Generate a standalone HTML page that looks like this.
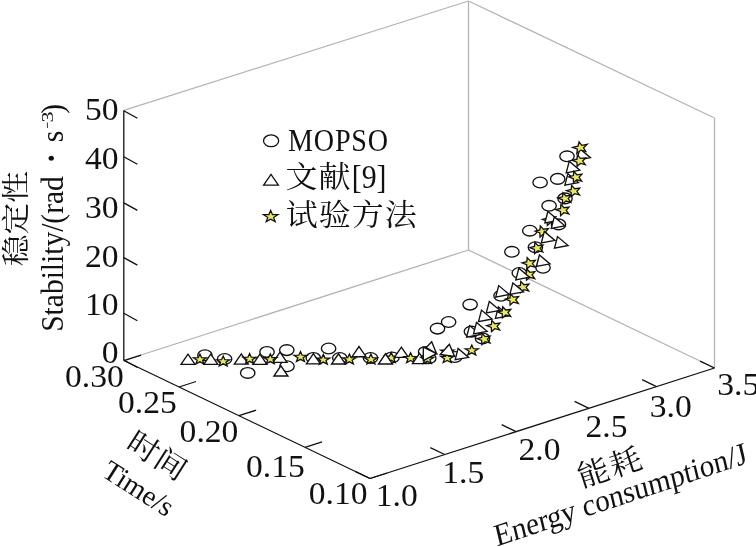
<!DOCTYPE html>
<html><head><meta charset="utf-8"><title>3D scatter</title>
<style>
html,body{margin:0;padding:0;background:#fff;}
svg{display:block;}
text{font-family:"Liberation Serif","Noto Serif CJK SC",serif;fill:#111;}
.cj{font-family:"Noto Serif CJK SC","Liberation Serif",serif;}
.tk{font-size:32px;}
</style></head><body>
<svg width="756" height="547" viewBox="0 0 756 547">
<rect width="756" height="547" fill="#fff"/>
<g id="box" fill="none" stroke-linecap="butt">
<line x1="123.8" y1="110.4" x2="468.5" y2="1.0" stroke="#b4b4b4" stroke-width="1.3"/>
<line x1="468.5" y1="1.0" x2="714.5" y2="118.0" stroke="#b4b4b4" stroke-width="1.3"/>
<line x1="714.5" y1="118.0" x2="714.5" y2="368.0" stroke="#b4b4b4" stroke-width="1.3"/>
<line x1="468.5" y1="1.0" x2="468.5" y2="250.0" stroke="#b4b4b4" stroke-width="1.3"/>
<line x1="468.5" y1="250.0" x2="123.8" y2="360.5" stroke="#b4b4b4" stroke-width="1.3"/>
<line x1="468.5" y1="250.0" x2="714.5" y2="368.0" stroke="#b4b4b4" stroke-width="1.3"/>
<line x1="123.8" y1="360.5" x2="123.8" y2="110.4" stroke="#111" stroke-width="1.3"/>
<line x1="123.8" y1="360.5" x2="370.0" y2="478.5" stroke="#111" stroke-width="1.3"/>
<line x1="370.0" y1="478.5" x2="714.5" y2="368.0" stroke="#111" stroke-width="1.3"/>
</g>
<g id="ticks">
<line x1="123.8" y1="360.0" x2="137.4" y2="367.5" stroke="#111" stroke-width="1.3"/>
<line x1="123.8" y1="313.2" x2="137.4" y2="320.7" stroke="#111" stroke-width="1.3"/>
<line x1="123.8" y1="257.6" x2="137.4" y2="265.1" stroke="#111" stroke-width="1.3"/>
<line x1="123.8" y1="202.9" x2="137.4" y2="210.4" stroke="#111" stroke-width="1.3"/>
<line x1="123.8" y1="156.8" x2="137.4" y2="164.3" stroke="#111" stroke-width="1.3"/>
<line x1="123.8" y1="110.7" x2="137.4" y2="118.2" stroke="#111" stroke-width="1.3"/>
<line x1="124.0" y1="360.6" x2="141.1" y2="355.1" stroke="#111" stroke-width="1.3"/>
<line x1="179.0" y1="387.0" x2="196.1" y2="381.5" stroke="#111" stroke-width="1.3"/>
<line x1="239.0" y1="415.7" x2="256.1" y2="410.2" stroke="#111" stroke-width="1.3"/>
<line x1="305.0" y1="447.3" x2="322.1" y2="441.8" stroke="#111" stroke-width="1.3"/>
<line x1="370.0" y1="478.5" x2="387.1" y2="473.0" stroke="#111" stroke-width="1.3"/>
<line x1="370.0" y1="478.5" x2="355.6" y2="471.6" stroke="#111" stroke-width="1.3"/>
<line x1="444.7" y1="454.5" x2="430.3" y2="447.6" stroke="#111" stroke-width="1.3"/>
<line x1="516.1" y1="431.6" x2="501.7" y2="424.7" stroke="#111" stroke-width="1.3"/>
<line x1="589.0" y1="408.3" x2="574.6" y2="401.3" stroke="#111" stroke-width="1.3"/>
<line x1="656.5" y1="386.6" x2="642.1" y2="379.7" stroke="#111" stroke-width="1.3"/>
<line x1="714.5" y1="368.0" x2="700.1" y2="361.1" stroke="#111" stroke-width="1.3"/>
</g>
<g id="ticklabels" class="tk">
<text transform="translate(118.6,363.1) scale(1.05,1)" text-anchor="end">0</text>
<text transform="translate(118.6,315.3) scale(1.05,1)" text-anchor="end">10</text>
<text transform="translate(118.6,266.6) scale(1.05,1)" text-anchor="end">20</text>
<text transform="translate(118.6,217.6) scale(1.05,1)" text-anchor="end">30</text>
<text transform="translate(118.6,169.0) scale(1.05,1)" text-anchor="end">40</text>
<text transform="translate(118.6,120.1) scale(1.05,1)" text-anchor="end">50</text>
<text transform="translate(65,387.2) scale(1.05,1)">0.30</text>
<text transform="translate(118,413.2) scale(1.05,1)">0.25</text>
<text transform="translate(179.6,441.7) scale(1.05,1)">0.20</text>
<text transform="translate(246,477.2) scale(1.05,1)">0.15</text>
<text transform="translate(308.8,504.1) scale(1.05,1)">0.10</text>
<text transform="translate(375.7,505.8) scale(1.05,1)">1.0</text>
<text transform="translate(442.3,483.3) scale(1.05,1)">1.5</text>
<text transform="translate(518.5,459.5) scale(1.05,1)">2.0</text>
<text transform="translate(585.5,437) scale(1.05,1)">2.5</text>
<text transform="translate(649.7,417.3) scale(1.05,1)">3.0</text>
<text transform="translate(717.3,394.8) scale(1.05,1)">3.5</text>
</g>
<g id="axislabels">
<text class="cj" transform="translate(25.8,218.6) rotate(-90) scale(1.01,0.91)" text-anchor="middle" font-size="31.5">稳定性</text>
<text transform="translate(63.4,331.8) rotate(-90) scale(0.922,1)" font-size="32">Stability/(rad<tspan font-size="46" dx="11.8" dy="3.9">·</tspan><tspan dx="9.8" dy="-3.9">s</tspan><tspan dx="18.4">)</tspan></text>
<text transform="translate(53,128.5) rotate(-90) scale(0.668,1)" font-size="17.7">−</text>
<text transform="translate(53,122.55) rotate(-90) scale(1.245,1)" font-size="17.7">3</text>
<text class="cj" transform="translate(157,456) rotate(32.5) scale(1,0.92)" text-anchor="middle" font-size="32" dy="11">时间</text>
<text transform="translate(100.5,475.4) rotate(32.5)" font-size="28.5">Time/s</text>
<text class="cj" transform="translate(610.4,466.9) rotate(-18) scale(1,0.94)" text-anchor="middle" font-size="32" dy="11.5" letter-spacing="2">能耗</text>
<text transform="translate(497,546.4) rotate(-18.4) skewX(-5) scale(0.956,1)" font-size="31">Energy consumption/J</text>
</g>
<g id="legend">
<ellipse cx="271.1" cy="140.8" rx="7.6" ry="5.9" fill="#fff" stroke="#111" stroke-width="1.3"/>
<polygon points="263.6,185.1 278.4,185.1 271,174.3" fill="#fff" stroke="#111" stroke-width="1.3" stroke-linejoin="miter"/>
<polygon points="270.7,210.4 272.5,214.6 277.9,214.7 273.6,217.4 275.2,221.6 270.7,219.1 266.2,221.6 267.8,217.4 263.5,214.7 268.9,214.6" fill="#ece85c" stroke="#111" stroke-width="1.25" stroke-linejoin="miter" stroke-miterlimit="10"/>
<text transform="translate(288,150.6) scale(0.89,1)" font-size="31.6" letter-spacing="0.9">MOPSO</text>
<text class="cj" transform="translate(285.5,186.6) scale(1,0.94)" font-size="32" letter-spacing="1">文献</text>
<text transform="translate(351.8,187.8) scale(0.87,1)" font-size="34.2">[9]</text>
<text class="cj" transform="translate(285.8,225.1) scale(1,0.94)" font-size="32" letter-spacing="1">试验方法</text>
</g>
<g id="data">
<ellipse cx="204.9" cy="355.2" rx="7.2" ry="5.35" fill="#fff" stroke="#111" stroke-width="1.35"/>
<ellipse cx="224.6" cy="359.0" rx="7.2" ry="5.35" fill="#fff" stroke="#111" stroke-width="1.35"/>
<ellipse cx="247.7" cy="372.9" rx="7.2" ry="5.35" fill="#fff" stroke="#111" stroke-width="1.35"/>
<ellipse cx="267.0" cy="351.9" rx="7.2" ry="5.35" fill="#fff" stroke="#111" stroke-width="1.35"/>
<ellipse cx="286.8" cy="350.1" rx="7.2" ry="5.35" fill="#fff" stroke="#111" stroke-width="1.35"/>
<ellipse cx="287.0" cy="366.3" rx="7.2" ry="5.35" fill="#fff" stroke="#111" stroke-width="1.35"/>
<ellipse cx="328.6" cy="348.5" rx="7.2" ry="5.35" fill="#fff" stroke="#111" stroke-width="1.35"/>
<ellipse cx="313.3" cy="357.9" rx="7.2" ry="5.35" fill="#fff" stroke="#111" stroke-width="1.35"/>
<ellipse cx="339.8" cy="358.0" rx="7.2" ry="5.35" fill="#fff" stroke="#111" stroke-width="1.35"/>
<ellipse cx="370.5" cy="358.0" rx="7.2" ry="5.35" fill="#fff" stroke="#111" stroke-width="1.35"/>
<ellipse cx="392.0" cy="357.4" rx="7.2" ry="5.35" fill="#fff" stroke="#111" stroke-width="1.35"/>
<polygon points="391.2,352.5 392.9,356.1 397.7,356.2 393.9,358.6 395.2,362.3 391.2,360.2 387.2,362.3 388.5,358.6 384.7,356.2 389.5,356.1" fill="#ece85c" stroke="#111" stroke-width="1.3" stroke-linejoin="miter" stroke-miterlimit="10"/>
<polygon points="181.0,364.3 195.0,364.3 188.0,354.1" fill="#fff" stroke="#111" stroke-width="1.35" stroke-linejoin="miter"/>
<polygon points="203.8,364.3 217.8,364.3 210.8,354.1" fill="#fff" stroke="#111" stroke-width="1.35" stroke-linejoin="miter"/>
<polygon points="234.3,364.1 248.3,364.1 241.3,353.9" fill="#fff" stroke="#111" stroke-width="1.35" stroke-linejoin="miter"/>
<polygon points="252.9,364.4 266.9,364.4 259.9,354.2" fill="#fff" stroke="#111" stroke-width="1.35" stroke-linejoin="miter"/>
<polygon points="273.0,362.4 287.0,362.4 280.0,352.2" fill="#fff" stroke="#111" stroke-width="1.35" stroke-linejoin="miter"/>
<polygon points="273.9,376.0 287.9,376.0 280.9,365.8" fill="#fff" stroke="#111" stroke-width="1.35" stroke-linejoin="miter"/>
<polygon points="306.4,363.8 320.4,363.8 313.4,353.6" fill="#fff" stroke="#111" stroke-width="1.35" stroke-linejoin="miter"/>
<polygon points="331.5,364.0 345.5,364.0 338.5,353.8" fill="#fff" stroke="#111" stroke-width="1.35" stroke-linejoin="miter"/>
<polygon points="352.0,356.7 366.0,356.7 359.0,346.5" fill="#fff" stroke="#111" stroke-width="1.35" stroke-linejoin="miter"/>
<polygon points="378.5,364.0 392.5,364.0 385.5,353.8" fill="#fff" stroke="#111" stroke-width="1.35" stroke-linejoin="miter"/>
<polygon points="394.4,357.3 408.4,357.3 401.4,347.1" fill="#fff" stroke="#111" stroke-width="1.35" stroke-linejoin="miter"/>
<polygon points="199.9,354.1 201.6,357.7 206.4,357.8 202.6,360.2 203.9,363.9 199.9,361.8 195.9,363.9 197.2,360.2 193.4,357.8 198.2,357.7" fill="#ece85c" stroke="#111" stroke-width="1.3" stroke-linejoin="miter" stroke-miterlimit="10"/>
<polygon points="223.2,356.1 224.9,359.7 229.7,359.8 225.9,362.2 227.2,365.9 223.2,363.8 219.2,365.9 220.5,362.2 216.7,359.8 221.5,359.7" fill="#ece85c" stroke="#111" stroke-width="1.3" stroke-linejoin="miter" stroke-miterlimit="10"/>
<polygon points="249.6,353.6 251.3,357.2 256.1,357.3 252.3,359.7 253.6,363.4 249.6,361.3 245.6,363.4 246.9,359.7 243.1,357.3 247.9,357.2" fill="#ece85c" stroke="#111" stroke-width="1.3" stroke-linejoin="miter" stroke-miterlimit="10"/>
<polygon points="270.3,353.9 272.0,357.5 276.8,357.6 273.0,360.0 274.3,363.7 270.3,361.6 266.3,363.7 267.6,360.0 263.8,357.6 268.6,357.5" fill="#ece85c" stroke="#111" stroke-width="1.3" stroke-linejoin="miter" stroke-miterlimit="10"/>
<polygon points="300.5,351.6 302.2,355.2 307.0,355.3 303.2,357.7 304.5,361.4 300.5,359.3 296.5,361.4 297.8,357.7 294.0,355.3 298.8,355.2" fill="#ece85c" stroke="#111" stroke-width="1.3" stroke-linejoin="miter" stroke-miterlimit="10"/>
<polygon points="323.3,354.4 325.0,358.0 329.8,358.1 326.0,360.5 327.3,364.2 323.3,362.1 319.3,364.2 320.6,360.5 316.8,358.1 321.6,358.0" fill="#ece85c" stroke="#111" stroke-width="1.3" stroke-linejoin="miter" stroke-miterlimit="10"/>
<polygon points="349.4,354.1 351.1,357.7 355.9,357.8 352.1,360.2 353.4,363.9 349.4,361.8 345.4,363.9 346.7,360.2 342.9,357.8 347.7,357.7" fill="#ece85c" stroke="#111" stroke-width="1.3" stroke-linejoin="miter" stroke-miterlimit="10"/>
<polygon points="370.9,354.1 372.6,357.7 377.4,357.8 373.6,360.2 374.9,363.9 370.9,361.8 366.9,363.9 368.2,360.2 364.4,357.8 369.2,357.7" fill="#ece85c" stroke="#111" stroke-width="1.3" stroke-linejoin="miter" stroke-miterlimit="10"/>
<polygon points="410.6,352.8 412.3,356.4 417.1,356.5 413.3,358.9 414.6,362.6 410.6,360.5 406.6,362.6 407.9,358.9 404.1,356.5 408.9,356.4" fill="#ece85c" stroke="#111" stroke-width="1.3" stroke-linejoin="miter" stroke-miterlimit="10"/>
<ellipse cx="425.6" cy="351.9" rx="7.2" ry="5.35" fill="#fff" stroke="#111" stroke-width="1.35"/>
<ellipse cx="428.8" cy="358.3" rx="7.2" ry="5.35" fill="#fff" stroke="#111" stroke-width="1.35"/>
<polygon points="412.5,363.6 426.5,363.6 419.5,353.4" fill="#fff" stroke="#111" stroke-width="1.35" stroke-linejoin="miter"/>
<polygon points="427.3,353.6 429.0,357.2 433.8,357.3 430.0,359.7 431.3,363.4 427.3,361.3 423.3,363.4 424.6,359.7 420.8,357.3 425.6,357.2" fill="#ece85c" stroke="#111" stroke-width="1.3" stroke-linejoin="miter" stroke-miterlimit="10"/>
<polygon points="431.7,341.7 436.5,353.5 426.2,347.5" fill="#fff" stroke="#111" stroke-width="1.35" stroke-linejoin="miter"/>
<polygon points="423.3,347.1 436.5,353.7 423.3,360.6" fill="#fff" stroke="#111" stroke-width="1.35" stroke-linejoin="miter"/>
<ellipse cx="455.0" cy="357.0" rx="7.2" ry="5.35" fill="#fff" stroke="#111" stroke-width="1.35"/>
<polygon points="447.3,346.5 449.0,350.1 453.8,350.2 450.0,352.6 451.3,356.3 447.3,354.2 443.3,356.3 444.6,352.6 440.8,350.2 445.6,350.1" fill="#ece85c" stroke="#111" stroke-width="1.3" stroke-linejoin="miter" stroke-miterlimit="10"/>
<polygon points="447.2,352.7 448.9,356.3 453.7,356.4 449.9,358.8 451.2,362.5 447.2,360.4 443.2,362.5 444.5,358.8 440.7,356.4 445.5,356.3" fill="#ece85c" stroke="#111" stroke-width="1.3" stroke-linejoin="miter" stroke-miterlimit="10"/>
<polygon points="449.4,344.3 440.2,354.5 454.6,356.4" fill="#fff" stroke="#111" stroke-width="1.35" stroke-linejoin="miter"/>
<polygon points="458.1,348.4 455.2,359.6 468.6,357.4" fill="#fff" stroke="#111" stroke-width="1.35" stroke-linejoin="miter"/>
<polygon points="471.8,345.1 473.5,348.7 478.3,348.8 474.5,351.2 475.8,354.9 471.8,352.8 467.8,354.9 469.1,351.2 465.3,348.8 470.1,348.7" fill="#ece85c" stroke="#111" stroke-width="1.3" stroke-linejoin="miter" stroke-miterlimit="10"/>
<ellipse cx="437.5" cy="328.6" rx="7.2" ry="5.35" fill="#fff" stroke="#111" stroke-width="1.35"/>
<ellipse cx="448.6" cy="322.0" rx="7.2" ry="5.35" fill="#fff" stroke="#111" stroke-width="1.35"/>
<ellipse cx="470.1" cy="304.6" rx="7.2" ry="5.35" fill="#fff" stroke="#111" stroke-width="1.35"/>
<ellipse cx="471.4" cy="331.6" rx="7.2" ry="5.35" fill="#fff" stroke="#111" stroke-width="1.35"/>
<ellipse cx="482.5" cy="338.4" rx="7.2" ry="5.35" fill="#fff" stroke="#111" stroke-width="1.35"/>
<ellipse cx="501.0" cy="295.8" rx="7.2" ry="5.35" fill="#fff" stroke="#111" stroke-width="1.35"/>
<ellipse cx="511.9" cy="251.8" rx="7.2" ry="5.35" fill="#fff" stroke="#111" stroke-width="1.35"/>
<ellipse cx="519.3" cy="273.0" rx="7.2" ry="5.35" fill="#fff" stroke="#111" stroke-width="1.35"/>
<ellipse cx="543.0" cy="267.8" rx="7.2" ry="5.35" fill="#fff" stroke="#111" stroke-width="1.35"/>
<ellipse cx="535.4" cy="247.2" rx="7.2" ry="5.35" fill="#fff" stroke="#111" stroke-width="1.35"/>
<ellipse cx="529.8" cy="230.7" rx="7.2" ry="5.35" fill="#fff" stroke="#111" stroke-width="1.35"/>
<ellipse cx="549.1" cy="205.8" rx="7.2" ry="5.35" fill="#fff" stroke="#111" stroke-width="1.35"/>
<ellipse cx="558.5" cy="224.4" rx="7.2" ry="5.35" fill="#fff" stroke="#111" stroke-width="1.35"/>
<ellipse cx="565.0" cy="198.4" rx="7.2" ry="5.35" fill="#fff" stroke="#111" stroke-width="1.35"/>
<ellipse cx="567.0" cy="156.3" rx="7.2" ry="5.35" fill="#fff" stroke="#111" stroke-width="1.35"/>
<ellipse cx="557.7" cy="178.9" rx="7.2" ry="5.35" fill="#fff" stroke="#111" stroke-width="1.35"/>
<ellipse cx="540.1" cy="182.5" rx="7.2" ry="5.35" fill="#fff" stroke="#111" stroke-width="1.35"/>
<polygon points="520.8,281.4 523.9,284.7 528.9,284.1 526.1,287.3 528.7,291.0 523.8,289.7 520.5,292.6 520.3,288.5 515.7,286.7 520.4,285.5" fill="#ece85c" stroke="#111" stroke-width="1.3" stroke-linejoin="miter" stroke-miterlimit="10"/>
<polygon points="526.8,269.0 529.9,272.3 534.9,271.7 532.1,274.9 534.7,278.6 529.8,277.3 526.5,280.2 526.3,276.1 521.7,274.3 526.4,273.1" fill="#ece85c" stroke="#111" stroke-width="1.3" stroke-linejoin="miter" stroke-miterlimit="10"/>
<polygon points="540.3,225.9 543.4,229.2 548.4,228.6 545.6,231.8 548.2,235.5 543.3,234.2 540.0,237.1 539.8,233.0 535.2,231.2 539.9,230.0" fill="#ece85c" stroke="#111" stroke-width="1.3" stroke-linejoin="miter" stroke-miterlimit="10"/>
<polygon points="547.6,214.1 550.7,217.4 555.7,216.8 552.9,220.0 555.5,223.7 550.6,222.4 547.3,225.3 547.1,221.2 542.5,219.4 547.2,218.2" fill="#ece85c" stroke="#111" stroke-width="1.3" stroke-linejoin="miter" stroke-miterlimit="10"/>
<polygon points="469.6,325.6 466.6,337.1 480.2,334.5" fill="#fff" stroke="#111" stroke-width="1.35" stroke-linejoin="miter"/>
<polygon points="476.5,322.4 473.5,333.9 487.1,331.3" fill="#fff" stroke="#111" stroke-width="1.35" stroke-linejoin="miter"/>
<polygon points="481.5,310.1 478.5,321.6 492.1,319.0" fill="#fff" stroke="#111" stroke-width="1.35" stroke-linejoin="miter"/>
<polygon points="498.4,306.9 495.4,318.4 509.0,315.8" fill="#fff" stroke="#111" stroke-width="1.35" stroke-linejoin="miter"/>
<polygon points="489.3,301.4 486.3,312.9 499.9,310.3" fill="#fff" stroke="#111" stroke-width="1.35" stroke-linejoin="miter"/>
<polygon points="498.7,285.6 495.7,297.1 509.3,294.5" fill="#fff" stroke="#111" stroke-width="1.35" stroke-linejoin="miter"/>
<polygon points="512.9,282.9 509.9,294.4 523.5,291.8" fill="#fff" stroke="#111" stroke-width="1.35" stroke-linejoin="miter"/>
<polygon points="518.8,268.3 515.8,279.8 529.4,277.2" fill="#fff" stroke="#111" stroke-width="1.35" stroke-linejoin="miter"/>
<polygon points="539.4,255.0 536.4,266.5 550.0,263.9" fill="#fff" stroke="#111" stroke-width="1.35" stroke-linejoin="miter"/>
<polygon points="557.5,236.6 554.5,248.1 568.1,245.5" fill="#fff" stroke="#111" stroke-width="1.35" stroke-linejoin="miter"/>
<polygon points="544.3,231.5 541.3,243.0 554.9,240.4" fill="#fff" stroke="#111" stroke-width="1.35" stroke-linejoin="miter"/>
<polygon points="547.9,211.4 544.9,222.9 558.5,220.3" fill="#fff" stroke="#111" stroke-width="1.35" stroke-linejoin="miter"/>
<polygon points="554.3,216.9 551.3,228.4 564.9,225.8" fill="#fff" stroke="#111" stroke-width="1.35" stroke-linejoin="miter"/>
<polygon points="567.9,173.7 564.9,185.2 578.5,182.6" fill="#fff" stroke="#111" stroke-width="1.35" stroke-linejoin="miter"/>
<polygon points="569.2,161.3 566.2,172.8 579.8,170.2" fill="#fff" stroke="#111" stroke-width="1.35" stroke-linejoin="miter"/>
<polygon points="579.8,148.8 576.8,160.3 590.4,157.7" fill="#fff" stroke="#111" stroke-width="1.35" stroke-linejoin="miter"/>
<polygon points="482.1,333.3 485.2,336.6 490.2,336.0 487.4,339.2 490.0,342.9 485.1,341.6 481.8,344.5 481.6,340.4 477.0,338.6 481.7,337.4" fill="#ece85c" stroke="#111" stroke-width="1.3" stroke-linejoin="miter" stroke-miterlimit="10"/>
<polygon points="491.8,320.4 494.9,323.7 499.9,323.1 497.1,326.3 499.7,330.0 494.8,328.7 491.5,331.6 491.3,327.5 486.7,325.7 491.4,324.5" fill="#ece85c" stroke="#111" stroke-width="1.3" stroke-linejoin="miter" stroke-miterlimit="10"/>
<polygon points="502.7,306.7 505.8,310.0 510.8,309.4 508.0,312.6 510.6,316.3 505.7,315.0 502.4,317.9 502.2,313.8 497.6,312.0 502.3,310.8" fill="#ece85c" stroke="#111" stroke-width="1.3" stroke-linejoin="miter" stroke-miterlimit="10"/>
<polygon points="510.4,293.8 513.5,297.1 518.5,296.5 515.7,299.7 518.3,303.4 513.4,302.1 510.1,305.0 509.9,300.9 505.3,299.1 510.0,297.9" fill="#ece85c" stroke="#111" stroke-width="1.3" stroke-linejoin="miter" stroke-miterlimit="10"/>
<polygon points="527.2,257.6 530.3,260.9 535.3,260.3 532.5,263.5 535.1,267.2 530.2,265.9 526.9,268.8 526.7,264.7 522.1,262.9 526.8,261.7" fill="#ece85c" stroke="#111" stroke-width="1.3" stroke-linejoin="miter" stroke-miterlimit="10"/>
<polygon points="534.9,242.3 538.0,245.6 543.0,245.0 540.2,248.2 542.8,251.9 537.9,250.6 534.6,253.5 534.4,249.4 529.8,247.6 534.5,246.4" fill="#ece85c" stroke="#111" stroke-width="1.3" stroke-linejoin="miter" stroke-miterlimit="10"/>
<polygon points="560.9,204.4 564.0,207.7 569.0,207.1 566.2,210.3 568.8,214.0 563.9,212.7 560.6,215.6 560.4,211.5 555.8,209.7 560.5,208.5" fill="#ece85c" stroke="#111" stroke-width="1.3" stroke-linejoin="miter" stroke-miterlimit="10"/>
<polygon points="562.9,192.7 566.0,196.0 571.0,195.4 568.2,198.6 570.8,202.3 565.9,201.0 562.6,203.9 562.4,199.8 557.8,198.0 562.5,196.8" fill="#ece85c" stroke="#111" stroke-width="1.3" stroke-linejoin="miter" stroke-miterlimit="10"/>
<polygon points="571.6,185.4 574.7,188.7 579.7,188.1 576.9,191.3 579.5,195.0 574.6,193.7 571.3,196.6 571.1,192.5 566.5,190.7 571.2,189.5" fill="#ece85c" stroke="#111" stroke-width="1.3" stroke-linejoin="miter" stroke-miterlimit="10"/>
<polygon points="573.8,171.5 576.9,174.8 581.9,174.2 579.1,177.4 581.7,181.1 576.8,179.8 573.5,182.7 573.3,178.6 568.7,176.8 573.4,175.6" fill="#ece85c" stroke="#111" stroke-width="1.3" stroke-linejoin="miter" stroke-miterlimit="10"/>
<polygon points="577.4,155.1 580.5,158.4 585.5,157.8 582.7,161.0 585.3,164.7 580.4,163.4 577.1,166.3 576.9,162.2 572.3,160.4 577.0,159.2" fill="#ece85c" stroke="#111" stroke-width="1.3" stroke-linejoin="miter" stroke-miterlimit="10"/>
<polygon points="579.1,141.8 581.8,145.3 587.2,144.3 583.5,147.8 585.8,151.5 580.8,150.1 576.8,153.4 577.4,149.1 572.7,147.4 578.0,146.1" fill="#ece85c" stroke="#111" stroke-width="1.3" stroke-linejoin="miter" stroke-miterlimit="10"/>
</g>
</svg></body></html>
